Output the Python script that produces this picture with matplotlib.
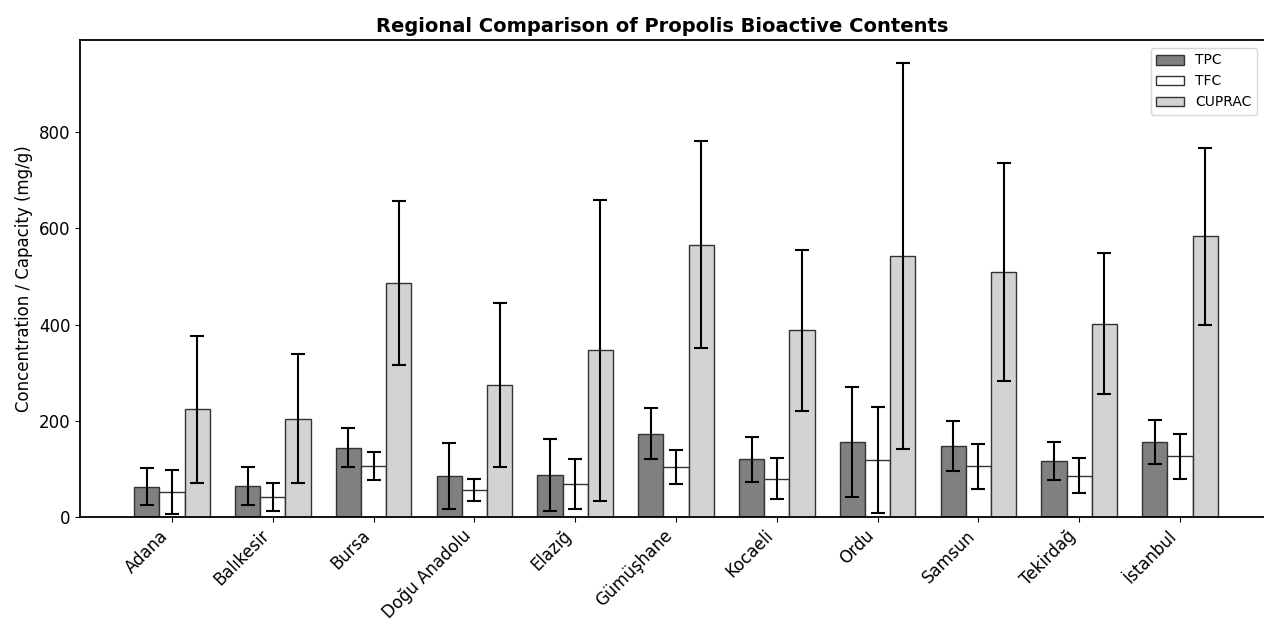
import numpy as np
import matplotlib
matplotlib.use('Agg')
import matplotlib.pyplot as plt

# Regional means and standard deviations (mg/g)
regions = ['Adana', 'Balıkesir', 'Bursa', 'Doğu Anadolu', 'Elazığ', 'Gümüşhane',
           'Kocaeli', 'Ordu', 'Samsun', 'Tekirdağ', 'İstanbul']

tpc_mean = [63, 64, 144, 85, 88, 173, 120, 156, 148, 116, 156]
tpc_sd = [38, 39, 40, 68, 75, 53, 47, 115, 52, 39, 46]

tfc_mean = [52, 41, 106, 56, 69, 104, 80, 118, 105, 86, 126]
tfc_sd = [46, 29, 30, 23, 52, 36, 42, 110, 46, 36, 47]

cuprac_mean = [224, 204, 486, 274, 346, 566, 388, 543, 509, 402, 583]
cuprac_sd = [153, 134, 170, 170, 312, 215, 167, 401, 226, 147, 183]

x = np.arange(len(regions))
width = 0.25

fig = plt.figure(figsize=(12.64, 6.26), dpi=100)
ax = fig.add_axes([80 / 1264, 1 - 517 / 626, 1192 / 1264, 477 / 626])

err_kw = dict(ecolor='black', elinewidth=1.5, capsize=5, capthick=1.5)
ax.bar(x - width, tpc_mean, width, yerr=tpc_sd, color='#808080',
       edgecolor='#333333', linewidth=1, label='TPC', error_kw=err_kw)
ax.bar(x, tfc_mean, width, yerr=tfc_sd, color='white',
       edgecolor='#333333', linewidth=1, label='TFC', error_kw=err_kw)
ax.bar(x + width, cuprac_mean, width, yerr=cuprac_sd, color='#d3d3d3',
       edgecolor='#333333', linewidth=1, label='CUPRAC', error_kw=err_kw)

ax.set_xticks(x)
ax.set_xticklabels(regions, rotation=45, ha='right', fontsize=12)
ax.tick_params(axis='y', labelsize=12)
ax.set_ylabel('Concentration / Capacity (mg/g)', fontsize=12)
ax.set_title('Regional Comparison of Propolis Bioactive Contents',
             fontsize=14, fontweight='bold', x=0.488)

for s in ax.spines.values():
    s.set_linewidth(1.3)

ax.legend(loc='upper right', bbox_to_anchor=(1.0, 1 - 41 / 626),
          bbox_transform=fig.transFigure, fontsize=10)

fig.savefig('out.png', dpi=100)
